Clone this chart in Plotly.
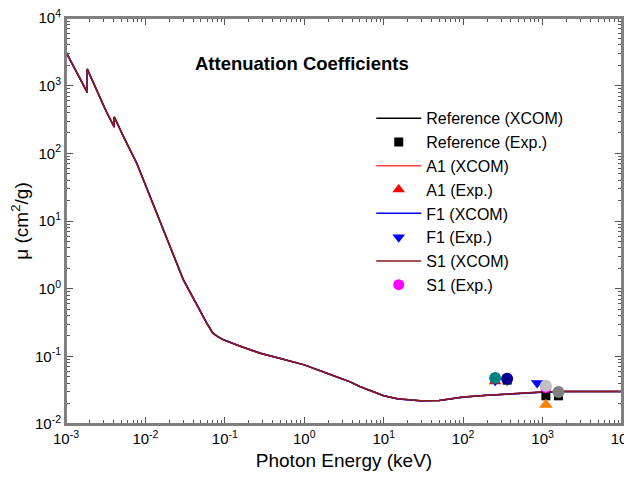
import plotly.graph_objects as go

# ---- data ----
energy = [1.0e-3, 1.3e-3, 1.6e-3, 1.85e-3, 1.85e-3, 2.5e-3, 3.2e-3, 4.05e-3, 4.05e-3,
          5.5e-3, 7.76e-3, 0.01, 0.02, 0.030, 0.059, 0.07, 0.08, 0.0957, 0.15, 0.277, 0.5,
          1.0, 2.0, 3.78, 5.0, 7.0, 10.0, 15.0, 20.0, 28.7, 50.0, 100.0, 200.0, 522.0,
          1000.0, 1820.0, 10000.0]
mu_ref = [3150, 1770, 1125, 800, 1770, 790, 420, 245, 345,
          160, 71.4, 34.0, 4.47, 1.35, 0.309, 0.222, 0.197, 0.175, 0.143, 0.111, 0.093,
          0.0748, 0.0553, 0.042, 0.0358, 0.0309, 0.0262, 0.0236, 0.0227, 0.0221, 0.0223,
          0.0250, 0.0266, 0.0286, 0.0296, 0.0302, 0.0302]
mu_a1 = [3150, 1770, 1125, 800, 1770, 790, 420, 245, 345,
         160, 71.4, 34.0, 4.47, 1.35, 0.309, 0.222, 0.197, 0.175, 0.143, 0.111, 0.093,
         0.0748, 0.0553, 0.042, 0.0358, 0.0309, 0.0262, 0.0236, 0.0227, 0.0221, 0.0223,
         0.0250, 0.0266, 0.0286, 0.0296, 0.0302, 0.0302]
mu_f1 = [3100, 1750, 1110, 790, 1750, 785, 418, 243, 342,
         162, 72.5, 34.5, 4.55, 1.37, 0.315, 0.225, 0.199, 0.177, 0.144, 0.112, 0.093,
         0.0748, 0.0553, 0.042, 0.0357, 0.0308, 0.0261, 0.0235, 0.0226, 0.0220, 0.0222,
         0.0249, 0.0265, 0.0285, 0.0295, 0.0301, 0.0301]
mu_s1 = [3150, 1770, 1125, 800, 1770, 790, 420, 245, 345,
         160, 71.4, 34.0, 4.47, 1.35, 0.309, 0.222, 0.197, 0.175, 0.143, 0.111, 0.093,
         0.0748, 0.0553, 0.042, 0.0358, 0.0309, 0.0262, 0.0236, 0.0227, 0.0221, 0.0223,
         0.0250, 0.0266, 0.0286, 0.0296, 0.0302, 0.0302]

# experimental points
ref_exp_e = [253, 358, 1100, 1585]
ref_exp_mu = [0.0455, 0.0445, 0.0261, 0.0261]
a1_exp_e = [253]
a1_exp_mu = [0.0425]
f1_exp_e = [253, 855]
f1_exp_mu = [0.0435, 0.0405]
s1_exp_e = [1100]
s1_exp_mu = [0.0345]

# additional (unlabelled) experimental series
teal_e, teal_mu = [253], [0.048]
navy_e, navy_mu = [358], [0.0466]
green_e, green_mu = [358], [0.0400]
lgray_e, lgray_mu = [1100], [0.0367]
dgray_e, dgray_mu = [1585], [0.0296]
orange_e, orange_mu = [1100], [0.0192]

x_tickvals = [1e-3, 1e-2, 1e-1, 1e0, 1e1, 1e2, 1e3, 1e4]
x_ticktext = ["10<sup>-3</sup>", "10<sup>-2</sup>", "10<sup>-1</sup>", "10<sup>0</sup>",
              "10<sup>1</sup>", "10<sup>2</sup>", "10<sup>3</sup>", "10<sup>4</sup>"]
y_tickvals = [1e-2, 1e-1, 1e0, 1e1, 1e2, 1e3, 1e4]
y_ticktext = ["10<sup>-2</sup>", "10<sup>-1</sup>", "10<sup>0</sup>", "10<sup>1</sup>",
              "10<sup>2</sup>", "10<sup>3</sup>", "10<sup>4</sup>"]

FONT = "Arial, Liberation Sans, sans-serif"

fig = go.Figure()

def line(name, y, color):
    fig.add_trace(go.Scatter(x=energy, y=y, mode="lines", name=name, legendgroup=name,
                             line=dict(color=color, width=1.5)))

def pts(name, x, y, color, symbol, size, show=True):
    fig.add_trace(go.Scatter(x=x, y=y, mode="markers", name=name, legendgroup=name,
                             showlegend=show,
                             marker=dict(color=color, symbol=symbol, size=size,
                                         line=dict(width=0))))

line("Reference (XCOM)", mu_ref, "black")
line("A1 (XCOM)", mu_a1, "#ff4040")
line("F1 (XCOM)", mu_f1, "#0000ff")
line("S1 (XCOM)", mu_s1, "#8b1a1a")

pts("Reference (Exp.)", ref_exp_e, ref_exp_mu, "black", "square", 9)
pts("A1 (Exp.)", a1_exp_e, a1_exp_mu, "#ff0000", "triangle-up", 11)
pts("F1 (Exp.)", f1_exp_e, f1_exp_mu, "#0000ff", "triangle-down", 11)
pts("S1 (Exp.)", s1_exp_e, s1_exp_mu, "#ff00ff", "circle", 11)
pts("green", green_e, green_mu, "#00a000", "triangle-down", 6, False)
pts("teal", teal_e, teal_mu, "#008080", "circle", 12, False)
pts("navy", navy_e, navy_mu, "#000090", "circle", 12, False)
pts("lgray", lgray_e, lgray_mu, "#c0c0c0", "circle", 12, False)
pts("dgray", dgray_e, dgray_mu, "#808080", "circle", 12, False)
pts("orange", orange_e, orange_mu, "#ff8000", "triangle-up", 12, False)

# legend order as in reference
order = ["Reference (XCOM)", "Reference (Exp.)", "A1 (XCOM)", "A1 (Exp.)",
         "F1 (XCOM)", "F1 (Exp.)", "S1 (XCOM)", "S1 (Exp.)"]
for tr in fig.data:
    if tr.name in order:
        tr.legendrank = order.index(tr.name) + 1

minor_x = [m * 10 ** k for k in range(-3, 4) for m in range(2, 10)]
minor_y = [m * 10 ** k for k in range(-2, 4) for m in range(2, 10)]

axis_common = dict(type="log", showgrid=False, zeroline=False, showline=True,
                   linecolor="#808080", linewidth=2, mirror="ticks",
                   ticks="inside", ticklen=7, tickwidth=1, tickcolor="#555555",
                   automargin=False, ticklabeloverflow="allow",
                   tickfont=dict(family=FONT, size=15, color="black"))

# the page body adds an 8px offset, so the figure is sized to fit the 632x479 window
fig.update_layout(
    width=624, height=471,
    margin=dict(l=58, r=10, t=10, b=55),
    paper_bgcolor="white", plot_bgcolor="white",
    font=dict(family=FONT, color="black"),
    xaxis=dict(range=[-3, 4], tickmode="array", tickvals=x_tickvals, ticktext=x_ticktext,
               minor=dict(tickmode="array", tickvals=minor_x, ticks="inside", ticklen=4,
                          tickcolor="#555555", showgrid=False),
               title=dict(text="Photon Energy (keV)", font=dict(family=FONT, size=19), standoff=8),
               **axis_common),
    yaxis=dict(range=[-2, 4], tickmode="array", tickvals=y_tickvals, ticktext=y_ticktext,
               minor=dict(tickmode="array", tickvals=minor_y, ticks="inside", ticklen=4,
                          tickcolor="#555555", showgrid=False),
               title=dict(text="μ (cm<sup>2</sup>/g)", font=dict(family=FONT, size=19), standoff=6),
               **axis_common),
    legend=dict(x=0.549, y=0.795, xanchor="left", yanchor="top", bgcolor="rgba(0,0,0,0)",
                borderwidth=0, font=dict(family=FONT, size=16), itemwidth=45,
                traceorder="normal"),
    showlegend=True,
    shapes=[dict(type="rect", xref="paper", yref="paper", x0=0, x1=1, y0=0, y1=1,
                 line=dict(color="#808080", width=2), fillcolor="rgba(0,0,0,0)",
                 layer="above")],
    annotations=[dict(text="<b>Attenuation Coefficients</b>", x=0.4245, y=0.889,
                      xref="paper", yref="paper", xanchor="center", yanchor="middle",
                      showarrow=False,
                      font=dict(family=FONT, size=18.5, color="black"))],
)

fig.write_html("out.html")
